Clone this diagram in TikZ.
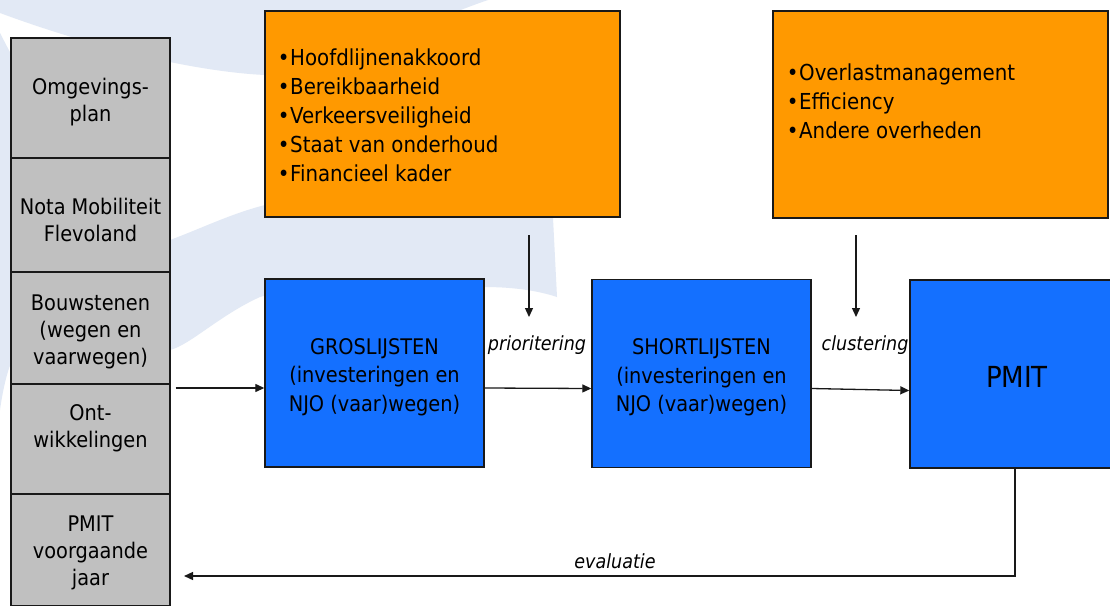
\documentclass[tikz,border=0pt]{standalone}
\usepackage{fontspec}
\setmainfont{DejaVu Sans Condensed}[ItalicFont={DejaVu Sans Condensed Oblique},BoldFont={DejaVu Sans Condensed Bold}]
\usetikzlibrary{arrows.meta,calc}
\definecolor{bgblue}{RGB}{226,233,245}
\definecolor{cellgray}{RGB}{192,192,192}
\definecolor{boxorange}{RGB}{255,153,0}
\definecolor{boxblue}{RGB}{20,112,255}
\definecolor{edge}{RGB}{25,25,25}
% bullet with its own fixed slot
\newcommand\blt{\hbox to 13pt{\hss\textbullet\hss}}

\begin{document}
\begin{tikzpicture}[x=1pt,y=-1pt,
  cell/.style={draw=edge, fill=cellgray, line width=1.4pt, minimum width=159pt,
    inner sep=0pt},
  celltext/.style={inner sep=0pt, align=center, font=\fontsize{21.5}{27}\selectfont},
  factor/.style={draw=edge, fill=boxorange, line width=1.4pt, minimum width=355pt,
    minimum height=206pt, inner sep=0pt},
  list/.style={draw=edge, fill=boxblue, line width=1.4pt, minimum width=219pt,
    minimum height=188pt, inner sep=0pt},
  listtext/.style={inner sep=0pt, align=center, font=\fontsize{21.5}{28.5}\selectfont},
  bullets/.style={anchor=west, align=left, inner sep=0pt,
    font=\fontsize{22}{29}\selectfont},
  flowlabel/.style={font=\fontsize{19.5}{22}\selectfont\itshape, inner sep=0pt},
  arr/.style={draw=edge, line width=1.3pt, -{Triangle[length=9pt,width=8pt]}},
]
\useasboundingbox (0,0) rectangle (1110,605);
\clip (0,0) rectangle (1110,605);
\fill[white] (0,0) rectangle (1110,605);

% faint background swoosh
\fill[bgblue] (0,0) -- (488,0) .. controls (400,30) and (330,78) .. (265,75)
  .. controls (200,72) and (100,50) .. (0,13) -- cycle;
\fill[bgblue] (0,33) .. controls (60,150) and (120,235) .. (170,240)
  .. controls (200,229) and (230,214) .. (265,205)
  .. controls (380,172) and (500,120) .. (545,95)
  -- (553,218) -- (557,297)
  .. controls (530,288) and (500,287) .. (483,287)
  .. controls (380,285) and (300,285) .. (260,297)
  .. controls (220,315) and (190,345) .. (170,350)
  .. controls (90,365) and (20,355) .. (11,363)
  .. controls (6,375) and (2,395) .. (0,410) -- cycle;

% input column
\node[cell, minimum height=120pt] (omg)  at (90.5,98)  {};
\node[cell, minimum height=114pt] (nota) at (90.5,215) {};
\node[cell, minimum height=112pt] (bouw) at (90.5,328) {};
\node[cell, minimum height=110pt] (ont)  at (90.5,439) {};
\node[cell, minimum height=112pt] (prev) at (90.5,550) {};
\node[celltext] (omg-t)  at ([yshift=-4.5pt]omg.center)  {Omgevings-\\plan};
\node[celltext] (nota-t) at ([yshift=-5pt]nota.center)   {Nota Mobiliteit\\Flevoland};
\node[celltext] (bouw-t) at ([yshift=-4pt]bouw.center)   {Bouwstenen\\(wegen en\\vaarwegen)};
\node[celltext] (ont-t)  at ([yshift=11pt]ont.center)    {Ont-\\wikkelingen};
\node[celltext] (prev-t) at ([yshift=-3pt]prev.center)   {PMIT\\voorgaande\\jaar};

% criteria boxes
\node[factor] (crit) at (442.5,114) {};
\node[bullets] (crit-t) at (277,115) {\blt Hoofdlijnenakkoord\\\blt Bereikbaarheid\\\blt Verkeersveiligheid\\\blt Staat van onderhoud\\\blt Financieel kader};
\node[factor, minimum width=335pt, minimum height=207pt] (cons) at (940.5,114.5) {};
\node[bullets] (cons-t) at (786,101.5) {\blt Overlastmanagement\\\blt Efficiency\\\blt Andere overheden};

% process boxes
\node[list] (gros)  at (374.5,373)  {};
\node[list] (short) at (701.5,373.5) {};
\node[list, minimum width=214pt] (pmit) at (1017,374) {};
\node[listtext] (gros-t)  at ([yshift=-4pt]gros.center)  {GROSLIJSTEN\\(investeringen en\\NJO (vaar)wegen)};
\node[listtext] (short-t) at ([yshift=-4pt]short.center) {SHORTLIJSTEN\\(investeringen en\\NJO (vaar)wegen)};
\node[listtext, font=\fontsize{29}{34}\selectfont] (pmit-t) at ([yshift=-3pt]pmit.center) {PMIT};

% main flow
\coordinate (gros-in) at ([yshift=-15pt]gros.west);
\draw[arr] ($(bouw.east |- gros-in)+(5,0)$) -- (gros-in);
\draw[arr] ([yshift=-15pt]gros.east) -- ([yshift=-15pt]short.west);
\draw[arr] ([yshift=-15pt]short.east) -- ([yshift=-16.5pt]pmit.west);

% criteria feeding in
\coordinate (prio-from) at (529,235);
\coordinate (prio-to)   at (529,317);
\draw[arr] (prio-from) -- (prio-to);
\coordinate (clus-from) at (856,235);
\coordinate (clus-to)   at (856,317);
\draw[arr] (clus-from) -- (clus-to);

% feedback loop
\coordinate (fb-end) at (184,576);
\draw[arr] ([xshift=-2pt]pmit.south) |- (fb-end);

% step labels
\node[flowlabel] (prio) at (537,345) {prioritering};
\node[flowlabel] (clus) at (865,345) {clustering};
\node[flowlabel] (eval) at (615,561) {evaluatie};
\end{tikzpicture}
\end{document}
